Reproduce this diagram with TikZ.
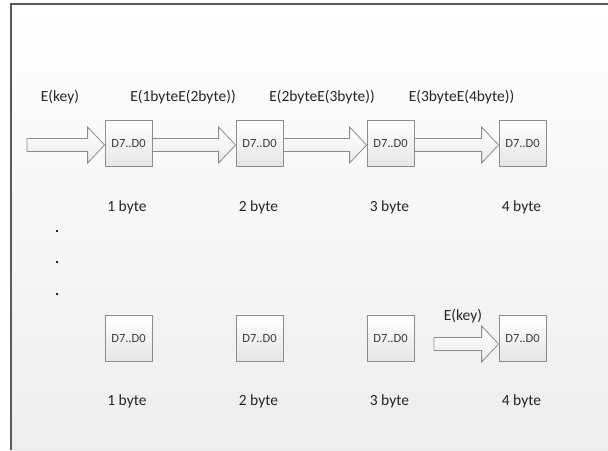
\documentclass[tikz,border=0pt]{standalone}
\usepackage{fontspec}
\setmainfont{Carlito}
\usetikzlibrary{calc}

\definecolor{framegray}{HTML}{5A5A5A}
\definecolor{edgegray}{HTML}{8C8C8C}
\definecolor{inkgray}{HTML}{262626}

\tikzset{
  bytebox/.style={draw=edgegray, line width=0.8pt, top color=white, bottom color=black!10,
    minimum width=47pt, minimum height=46pt, inner sep=0pt,
    font=\fontsize{12.5}{15}\selectfont, text=inkgray!90},
  lbl/.style={font=\fontsize{15.5}{18}\selectfont, text=inkgray, inner sep=0pt},
  fatarr/.style={draw=edgegray, line width=0.8pt, top color=white, bottom color=black!8},
  bullet/.style={fill=black!85, minimum size=2.2pt, inner sep=0pt, draw=none}
}

% hollow block arrow from point #1 to the tip #2 (horizontal, tip height decides)
\newcommand\fatarrow[2]{%
  \path let \p1=(#1), \p2=(#2) in
    [fatarr] (\x1,\y2+6.5pt) -- (\x2-17pt,\y2+6.5pt) -- (\x2-17pt,\y2+18pt)
    -- (\x2,\y2) -- (\x2-17pt,\y2-18pt) -- (\x2-17pt,\y2-6.5pt)
    -- (\x1,\y2-6.5pt) -- cycle;%
}

\begin{document}
\begin{tikzpicture}[x=1pt, y=-1pt]
\useasboundingbox (0,0) rectangle (608,450);

% page background and frame
\shade[top color=white, bottom color=black!7] (11,4) rectangle (608,450);
\draw[framegray, line width=1.3pt] (608,4) -- (11,4) -- (11,450);

% upper row of bytes
\node[bytebox] (a1) at (128.5,143) {D7..D0};
\node[bytebox] (a2) at (259.5,143) {D7..D0};
\node[bytebox] (a3) at (390.5,143) {D7..D0};
\node[bytebox] (a4) at (522.5,143) {D7..D0};

\coordinate (s0) at (27,145);
\coordinate (t1) at ($(a1.west)+(0,2)$);
\coordinate (t2) at ($(a2.west)+(0,2)$);
\coordinate (t3) at ($(a3.west)+(0,2)$);
\coordinate (t4) at ($(a4.west)+(0,2)$);

\fatarrow{s0}{t1}
\fatarrow{a1.east}{t2}
\fatarrow{a2.east}{t3}
\fatarrow{a3.east}{t4}

\node[lbl] (k0) at (60,97) {E(key)};
\node[lbl] (k1) at (183,97) {E(1byteE(2byte))};
\node[lbl] (k2) at (322,97) {E(2byteE(3byte))};
\node[lbl] (k3) at (461.5,97) {E(3byteE(4byte))};

\node[lbl] (n1) at (127,207) {1 byte};
\node[lbl] (n2) at (258.5,207) {2 byte};
\node[lbl] (n3) at (389.5,207) {3 byte};
\node[lbl] (n4) at (521.5,207) {4 byte};

% ellipsis dots
\node[bullet] (d1) at (57,231) {};
\node[bullet] (d2) at (57,262) {};
\node[bullet] (d3) at (57,294) {};

% lower row of bytes
\node[bytebox] (b1) at (128.5,338) {D7..D0};
\node[bytebox] (b2) at (259.5,338) {D7..D0};
\node[bytebox] (b3) at (390.5,338) {D7..D0};
\node[bytebox] (b4) at (522.5,338) {D7..D0};

\coordinate (s5) at (434,344);
\coordinate (t5) at ($(b4.west)+(0,6)$);
\fatarrow{s5}{t5}
\node[lbl] (k5) at (463,316) {E(key)};

\node[lbl] (m1) at (127,401) {1 byte};
\node[lbl] (m2) at (258.5,401) {2 byte};
\node[lbl] (m3) at (389.5,401) {3 byte};
\node[lbl] (m4) at (521.5,401) {4 byte};
\end{tikzpicture}
\end{document}
